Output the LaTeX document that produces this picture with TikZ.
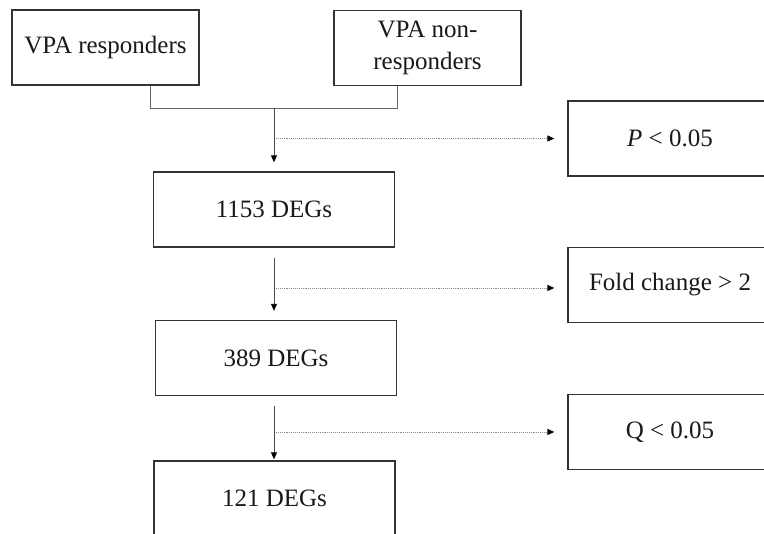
\documentclass[tikz,border=0pt]{standalone}
\usepackage{fontspec}
\setmainfont{Liberation Serif}
\usetikzlibrary{arrows.meta, positioning}
\usepackage{xcolor}

\tikzset{
	stagebox/.style={draw=black!80, line width=1.3pt, fill=white, minimum width=241pt, minimum height=75pt, inner sep=0pt, font=\fontsize{25}{32}\selectfont, text=black!90},
	groupbox/.style={stagebox, minimum width=187pt, align=center},
	critbox/.style={stagebox, minimum width=204pt},
	bracket/.style={draw=black!60, line width=0.9pt},
	flow/.style={draw=black!70, line width=0.9pt, -{Triangle[length=7pt,width=6pt,color=black]}, shorten <=10pt, shorten >=9pt},
	filter/.style={draw=black!45, line width=0.9pt, densely dotted, -{Triangle[length=7pt,width=6pt,color=black]}, shorten <=2pt, shorten >=13pt}
}

\begin{document}
\begin{tikzpicture}[x=1pt, y=-1pt]
		\useasboundingbox (0,0) rectangle (764,534);

		% the two groups
		\node[groupbox] (resp) at (105.5,47.5) {VPA responders};
		\node[groupbox] (nonresp) at (427.5,48) {VPA non-\\responders};

		% the DEG stages
		\node[stagebox] (deg1153) at (274,209.5) {1153 DEGs};
		\node[stagebox] (deg389) at (276,358) {389 DEGs};
		\node[stagebox] (deg121) at (274.5,498.5) {121 DEGs};

		% the criteria
		\node[critbox] (pval) at (670,138.5) {\textit{P} < 0.05};
		\node[critbox] (fold) at (670,285) {Fold change > 2};
		\node[critbox] (qval) at (670,432) {Q < 0.05};

		\coordinate (bl) at (150,108);
		\coordinate (br) at (397,108);
		\coordinate (join) at (274,108);
		\draw[bracket] (resp.south -| bl) -- (bl) -- (br) -- (nonresp.south -| br);

		\draw[flow, shorten <=0pt] (join) -- (join |- deg1153.north);
		\draw[flow] (deg1153.south -| join) -- (deg389.north -| join);
		\draw[flow, shorten >=1pt] (deg389.south -| join) -- (deg121.north -| join);

		\draw[filter] (pval.west -| join) -- (pval.west);
		\draw[filter] ([yshift=-3pt]fold.west -| join) -- ([yshift=-3pt]fold.west);
		\draw[filter] (qval.west -| join) -- (qval.west);
	\end{tikzpicture}
\end{document}
